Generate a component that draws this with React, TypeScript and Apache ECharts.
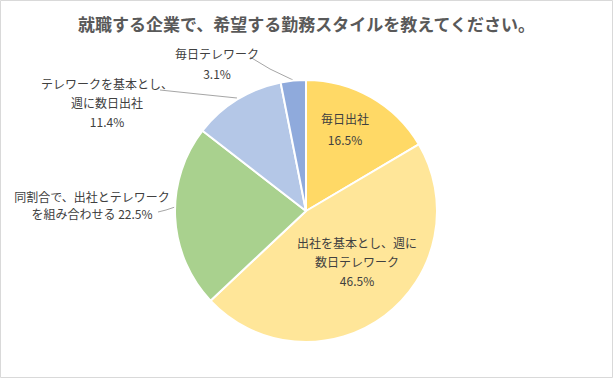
import React, { useEffect, useRef } from "react";
import * as echarts from "echarts";

const titleText = "就職する企業で、希望する勤務スタイルを教えてください。";
const names = [
  "毎日出社",
  "出社を基本とし、週に数日テレワーク",
  "同割合で、出社とテレワークを組み合わせる",
  "テレワークを基本とし、週に数日出社",
  "毎日テレワーク",
];
const labelTexts = [
  "毎日出社",
  "出社を基本とし、週に\n数日テレワーク",
  "同割合で、出社とテレワーク\nを組み合わせる",
  "テレワークを基本とし、\n週に数日出社",
  "毎日テレワーク",
];
const values = [16.5, 46.5, 22.5, 11.4, 3.1];
const colors = ["#FFD966", "#FFE699", "#A9D18E", "#B4C7E7", "#8FAADC"];

const labelPos: Record<number, any> = {
  0: { x: 345, y: 129 },
  1: { x: 357, y: 261 },
  2: { x: 92, y: 205, line: [[175, 207], [166, 210], [158, 212]] },
  3: { x: 107, y: 102, line: [[237, 98], [198, 94], [160, 90]] },
  4: { x: 217, y: 63, line: [[293, 80], [270, 69], [250, 57]] },
};

export default function App() {
  const ref = useRef<HTMLDivElement>(null);
  useEffect(() => {
    document.body.style.margin = "0";
    const chart = echarts.init(ref.current!, null, { renderer: "svg" });
    const lineHeights = [21, 19, 17, 19, 20];
    chart.setOption({
      animation: false,
      backgroundColor: "#ffffff",
      title: {
        text: titleText,
        left: "center",
        top: 10,
        textStyle: {
          fontFamily: "Noto Sans CJK JP",
          fontSize: 17,
          fontWeight: "bold",
          color: "#595959",
        },
      },
      graphic: [
        {
          type: "rect",
          shape: { x: 0.5, y: 0.5, width: 612, height: 377 },
          style: { fill: "none", stroke: "#d9d9d9", lineWidth: 1 },
          silent: true,
        },
      ],
      series: [
        {
          type: "pie",
          center: [306, 211],
          radius: 131,
          startAngle: 90,
          clockwise: true,
          itemStyle: { borderColor: "#ffffff", borderWidth: 2 },
          data: names.map((n, i) => ({
            name: n,
            value: values[i],
            itemStyle: { color: colors[i] },
            label: { lineHeight: lineHeights[i] },
          })),
          label: {
            show: true,
            position: "outside",
            fontFamily: "Noto Sans CJK JP",
            fontSize: 12,
            color: "#404040",
            align: "center",
            overflow: "none",
            formatter: (p: any) =>
              labelTexts[p.dataIndex] +
              (p.dataIndex === 2 ? " " : "\n") +
              values[p.dataIndex].toFixed(1) +
              "%",
          },
          labelLine: {
            show: true,
            lineStyle: { color: "#a6a6a6", width: 1 },
          },
          labelLayout: (params: any) => {
            const p = labelPos[params.dataIndex];
            const out: any = {
              x: p.x,
              y: p.y,
              align: "center",
              verticalAlign: "middle",
            };
            if (p.line) out.labelLinePoints = p.line;
            return out;
          },
        },
      ],
    });
    return () => chart.dispose();
  }, []);
  return (
    <div
      ref={ref}
      style={{ position: "absolute", left: 0, top: 0, width: 613, height: 378 }}
    />
  );
}
